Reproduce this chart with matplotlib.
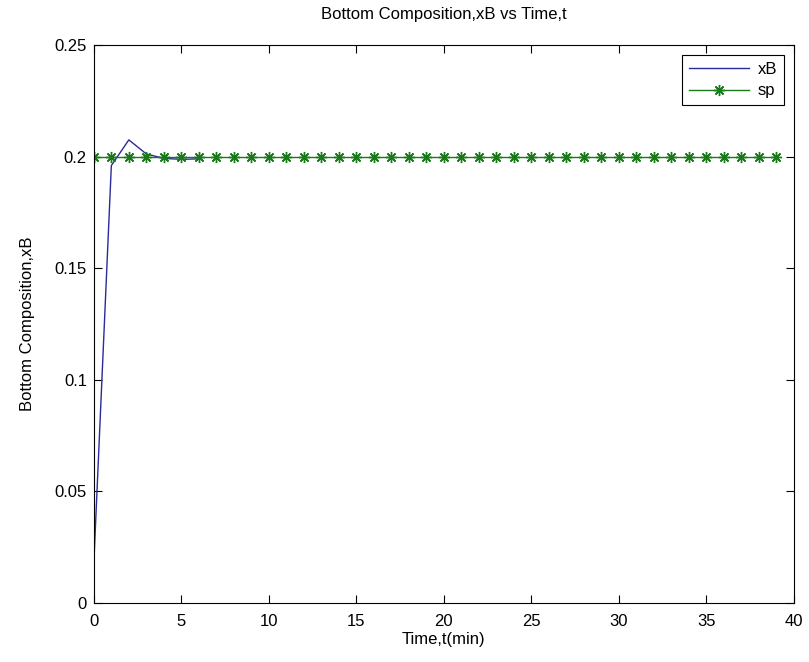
import matplotlib
matplotlib.use("Agg")
import matplotlib.pyplot as plt
import numpy as np

t_xb = [0, 1, 2, 3, 4, 5, 6]
xB = [0.018, 0.196, 0.2075, 0.2012, 0.1992, 0.1988, 0.199]
t_sp = list(range(0, 40))
sp = [0.2] * 40

plt.rcParams['font.family'] = ['Liberation Sans', 'DejaVu Sans']
fig = plt.figure(figsize=(8.09, 6.62), dpi=100)
ax = fig.add_axes([0.116, 0.089, 0.865, 0.843])
ax.plot(t_xb, xB, color='#2a2a9a', lw=1.0, label='xB')
ax.plot(t_sp, sp, color='#1a7a1a', lw=1.0, marker=(8, 2, 0), ms=8, mew=1.0, label='sp')
ax.set_xlim(0, 40)
ax.set_ylim(0, 0.25)
ax.set_xticks(np.arange(0, 41, 5))
ax.set_yticks([0, 0.05, 0.1, 0.15, 0.2, 0.25])
ax.set_yticklabels(['0', '0.05', '0.1', '0.15', '0.2', '0.25'])
ax.tick_params(direction='in', top=True, right=True, labelsize=12, length=6)
ax.tick_params(axis='x', pad=8)
ax.tick_params(axis='y', pad=5)
ax.set_xlabel('Time,t(min)', fontsize=12, labelpad=2)
ax.set_ylabel('Bottom Composition,xB', fontsize=12, labelpad=14)
ax.set_title('Bottom Composition,xB vs Time,t', fontsize=12, pad=19)
leg = ax.legend(loc='upper right', fontsize=12, fancybox=False, edgecolor='black',
                framealpha=1, handlelength=3.6, borderaxespad=0.6, handletextpad=0.5,
                labelspacing=0.4)
leg.get_frame().set_linewidth(0.8)
fig.savefig('out.png', dpi=100)
